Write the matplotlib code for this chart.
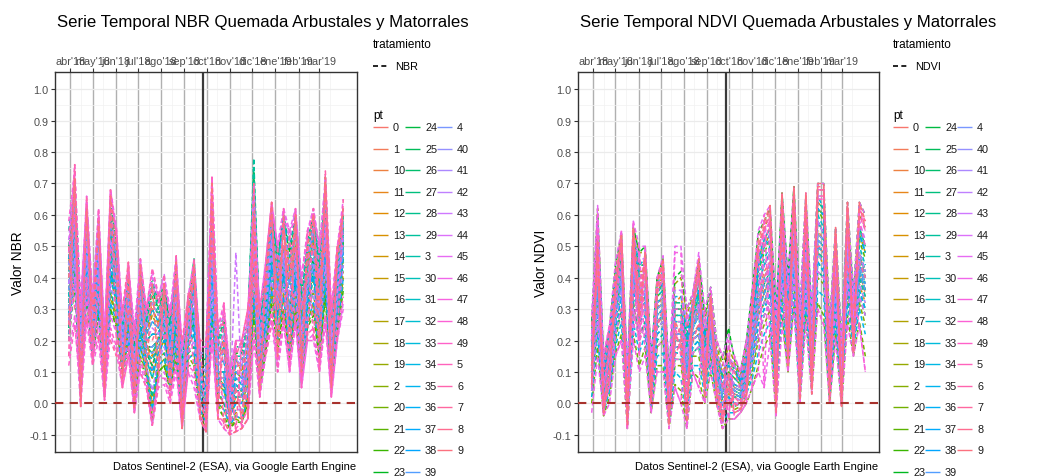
import numpy as np
import pandas as pd
import matplotlib
matplotlib.use("Agg")
import matplotlib.pyplot as plt
import matplotlib.dates as mdates

plt.rcParams['font.family'] = ['Liberation Sans', 'DejaVu Sans']
plt.rcParams['axes.unicode_minus'] = False

# ---------------- datos ----------------
fechas = pd.date_range("2018-03-30", periods=47, freq="8D")
fecha_fuego = pd.Timestamp("2018-09-26")
meses = pd.date_range("2018-04-01", "2019-03-01", freq="MS")
meses_lbl = ["abr'18", "may'18", "jun'18", "jul'18", "ago'18", "sep'18",
             "oct'18", "nov'18", "dic'18", "ene'19", "feb'19", "mar'19"]
y_ticks = [-0.1, 0.0, 0.1, 0.2, 0.3, 0.4, 0.5, 0.6, 0.7, 0.8, 0.9, 1.0]
pts = [str(i) for i in range(50)]

# valores NBR (x100) por pt, una fecha por columna
nbr_pt = [
    "30 55 10 50 20 40 8 48 40 15 28 5 30 20 10 22 25 12 30 2 20 28 5 0 40 8 5 -2 0 3 10 45 12 28 50 30 45 28 40 18 35 45 25 55 12 32 50",
    "45 62 20 58 25 50 15 55 45 20 35 10 38 22 30 25 30 18 35 8 25 35 10 5 55 15 20 2 10 8 15 60 20 35 55 38 50 40 50 25 42 52 35 60 18 40 55",
    "20 40 5 35 15 30 5 30 25 10 20 0 15 10 -5 10 12 5 15 -5 15 12 -3 -8 30 0 -5 -8 -5 -6 0 30 5 18 35 18 30 15 30 8 25 30 15 35 5 25 38",
    "55 70 30 62 30 58 20 65 52 25 40 20 42 28 38 30 35 25 42 15 30 42 15 15 65 20 25 5 15 15 25 70 25 40 60 45 58 50 58 35 50 58 45 68 25 45 60",
    "36 58 14 50 22 44 10 50 40 16 30 8 32 18 18 20 26 14 32 4 22 32 6 2 50 10 10 -2 6 4 12 54 16 30 50 32 46 30 46 20 38 46 30 54 16 34 52",
    "55 60 -1 40 15 62 1 48 56 5 45 -3 46 30 43 35 20 30 25 -8 35 10 20 -9 72 -5 32 -10 20 -8 30 50 2 45 64 10 62 10 62 5 55 20 50 60 2 50 55",
    "15 76 5 66 12 40 2 68 20 5 15 25 10 5 -7 5 41 0 47 -5 10 46 -5 -9 60 25 -8 10 -9 20 -5 45 30 15 25 50 25 55 25 40 20 62 10 74 30 20 65",
    "50 30 30 25 35 20 25 20 15 30 45 10 30 30 30 35 30 28 30 20 34 40 20 20 50 25 25 5 15 20 30 40 30 40 40 40 50 40 50 30 40 50 40 50 25 50 50",
    "25 70 10 60 30 55 10 60 40 10 30 5 40 20 20 25 35 10 40 -5 30 40 0 -5 65 0 20 -5 5 -5 10 70 10 35 60 30 55 40 60 15 50 60 30 70 10 45 60",
    "40 72 -1 62 20 58 5 66 50 8 40 -2 44 10 38 10 38 5 45 -8 30 44 -5 -9 70 -5 -5 -10 -9 -8 -5 60 4 40 64 15 60 20 60 10 50 60 20 72 5 48 62",
    "28 50 10 45 20 38 8 42 35 15 26 6 25 16 12 18 22 10 26 2 20 25 4 0 42 8 6 -4 2 2 8 48 12 25 45 28 42 25 40 15 32 42 25 50 12 30 48",
    "42 68 22 60 28 52 15 60 48 22 36 14 38 24 32 28 34 20 40 10 26 40 12 10 62 16 20 4 12 12 20 68 22 36 58 42 55 42 55 30 46 56 40 66 22 42 58",
    "32 52 12 48 22 42 10 46 38 15 28 8 28 18 15 20 24 12 28 4 20 28 6 2 45 10 8 -2 4 4 10 50 14 28 48 30 44 28 42 18 35 44 28 52 14 32 50",
    "22 45 6 38 16 32 4 35 28 10 22 2 20 12 0 14 16 8 20 -3 16 18 0 -5 32 3 0 -6 -3 -3 3 38 8 20 38 22 35 18 35 10 28 36 18 42 8 26 42",
    "48 66 24 58 26 56 16 58 50 20 36 12 40 24 30 26 32 20 38 10 26 38 12 12 58 16 20 4 14 10 20 62 22 36 56 40 54 44 54 28 44 54 36 62 20 40 56",
    "36 56 14 50 24 44 10 50 40 16 30 8 32 18 18 20 26 14 30 4 22 30 6 2 48 10 10 -2 6 4 12 52 16 30 50 32 46 30 46 20 36 46 30 54 16 34 52",
    "26 48 8 42 18 36 6 40 32 12 24 4 24 14 8 16 20 10 24 0 18 22 2 -2 38 6 4 -4 0 0 6 44 10 24 42 26 40 24 38 14 30 40 22 46 10 28 46",
    "44 64 20 56 26 50 14 56 46 20 34 12 36 22 28 24 30 18 36 8 24 36 10 8 56 14 18 2 10 8 18 60 20 34 54 38 50 38 50 26 42 52 34 60 20 38 56",
    "30 50 10 46 20 40 8 44 36 14 26 6 28 16 14 18 22 12 28 2 20 26 4 0 44 8 8 -2 2 2 10 48 14 26 46 30 44 26 42 16 34 44 26 50 14 32 50",
    "24 42 4 36 16 30 4 34 26 10 20 0 18 10 -2 12 14 6 18 -4 14 16 -2 -6 30 0 -2 -7 -4 -5 2 34 6 18 36 20 34 16 32 8 26 32 16 38 6 24 40",
    "34 54 12 48 22 44 10 48 40 16 28 8 30 18 16 20 24 12 30 4 22 30 6 2 46 10 10 -2 4 4 12 50 14 28 48 30 44 28 44 18 36 46 28 52 14 34 52",
    "40 60 18 54 24 48 12 54 44 18 32 10 34 20 22 22 28 16 34 6 24 34 8 4 52 12 14 0 8 6 14 56 18 32 52 34 48 34 48 22 40 50 32 56 18 36 54",
    "20 38 2 34 14 28 2 30 24 8 18 -2 14 8 -6 10 12 4 14 -6 12 12 -4 -8 26 -2 -4 -8 -6 -6 0 28 4 16 32 16 30 14 30 6 24 28 14 34 4 22 36",
    "46 70 26 62 30 58 18 64 52 24 40 18 42 26 36 30 36 24 42 14 30 44 14 14 64 20 26 6 16 16 24 72 24 40 60 46 58 48 58 34 50 58 44 68 24 44 60",
    "36 56 14 50 22 46 10 50 40 16 30 8 30 18 18 20 26 14 30 4 22 30 6 2 48 10 10 -2 6 4 12 52 16 30 50 32 46 30 46 20 38 46 30 54 16 34 52",
    "28 50 10 44 20 38 8 42 34 14 26 6 26 16 12 18 22 10 26 2 20 26 4 0 42 8 6 -4 2 2 8 48 12 26 46 28 42 26 40 16 32 42 26 50 12 30 48",
    "50 68 28 62 30 56 20 62 52 26 42 20 44 28 40 32 38 26 44 16 32 46 16 16 66 22 28 8 18 18 26 74 26 42 62 48 60 50 60 36 52 60 46 70 26 46 62",
    "38 58 16 52 24 46 12 52 42 18 32 10 34 20 22 22 28 16 34 6 24 34 8 4 50 12 14 0 8 6 14 56 18 32 52 34 48 34 48 22 40 48 32 56 18 36 54",
    "24 44 6 40 16 34 4 36 28 10 22 2 20 12 2 14 16 8 20 -2 16 18 0 -4 34 4 0 -6 -2 -2 4 40 8 22 40 24 38 20 36 10 28 36 20 44 8 26 44",
    "44 66 22 60 28 54 16 60 50 22 38 16 40 26 34 28 34 22 40 12 28 42 12 12 60 18 24 4 14 14 22 78 24 38 60 44 56 46 56 32 48 56 42 66 22 42 58",
    "32 54 12 46 20 42 10 46 38 16 28 8 30 18 16 20 24 12 30 4 22 28 6 2 46 10 10 -2 4 4 12 54 14 28 48 30 44 28 44 18 36 44 28 72 14 34 50",
    "26 46 8 42 18 36 6 40 32 12 24 4 22 14 8 16 20 10 24 0 18 22 2 -2 38 6 4 -4 0 0 6 42 10 24 42 26 40 24 38 14 30 40 22 46 10 28 46",
    "42 62 20 56 26 50 14 56 46 20 34 12 36 22 26 24 30 18 36 8 26 36 10 8 56 14 18 2 10 8 16 60 20 34 54 36 50 38 50 26 42 52 34 60 20 38 56",
    "34 56 12 48 22 44 10 48 40 16 30 8 30 18 18 20 26 14 30 4 22 30 6 2 48 10 10 -2 6 4 12 52 16 30 50 32 46 30 46 20 36 46 30 54 16 34 52",
    "30 50 10 46 20 40 8 44 36 14 26 6 28 16 14 18 22 12 28 2 20 26 4 0 44 8 8 -2 2 2 10 48 14 26 46 30 44 26 42 16 34 44 26 50 14 32 50",
    "46 64 22 58 28 52 16 58 48 22 36 14 38 24 30 26 32 20 38 10 26 40 12 10 58 16 20 4 12 12 20 64 22 36 56 40 60 42 54 30 46 54 38 64 22 40 58",
    "22 40 4 36 16 30 4 32 26 10 20 0 18 10 -2 12 14 6 18 -4 14 16 -2 -6 30 0 -2 -7 -4 -5 2 34 6 18 36 20 34 16 32 8 26 32 16 38 6 24 40",
    "38 58 16 52 24 46 12 52 42 18 32 10 32 20 22 22 28 16 32 6 24 32 8 4 50 12 14 0 8 6 14 56 18 32 52 34 48 34 48 22 40 50 32 56 18 36 54",
    "28 48 8 44 18 38 6 42 34 12 24 4 24 14 10 16 20 10 24 0 18 24 2 -2 40 6 6 -4 0 0 8 46 12 24 44 28 42 24 40 14 32 42 24 48 12 30 48",
    "40 62 18 56 26 50 14 56 46 20 34 12 36 22 26 24 30 18 36 8 26 36 10 6 54 14 16 2 10 8 16 58 20 34 54 36 50 38 50 24 42 50 34 58 18 38 56",
    "30 52 10 46 20 42 8 46 38 14 28 6 28 16 16 18 24 12 30 2 20 28 4 0 46 8 8 -2 4 2 10 50 14 28 48 30 44 28 44 16 36 44 28 52 14 32 50",
    "44 66 22 58 28 54 16 60 48 22 36 14 40 24 32 28 34 22 40 10 28 42 12 10 60 16 22 4 14 12 20 66 22 38 58 42 56 44 56 30 46 56 40 64 22 42 58",
    "26 46 6 40 18 34 4 38 30 10 22 2 20 12 4 14 18 8 20 -2 16 20 0 -4 36 4 2 -6 -2 -2 4 40 8 22 40 24 38 20 36 10 28 36 20 44 8 26 44",
    "38 60 16 52 24 48 12 52 42 18 32 10 34 20 24 22 28 16 34 6 24 34 8 4 52 12 14 0 48 6 14 56 18 32 52 34 48 34 48 22 40 50 32 56 18 36 54",
    "52 72 28 64 32 60 20 66 54 26 42 20 46 28 40 34 41 28 47 16 32 44 16 16 68 22 28 8 18 18 26 70 28 44 62 50 62 52 62 38 54 62 48 72 28 48 62",
    "20 40 0 34 14 26 2 28 22 6 16 -3 12 6 -7 8 10 2 12 -8 10 8 -5 -9 24 -5 -8 -10 -9 -8 -5 22 2 15 28 12 26 10 26 5 20 22 10 28 2 20 32",
    "48 76 30 66 34 62 22 68 56 28 44 24 46 30 42 34 40 30 46 18 34 46 18 18 72 24 30 10 20 20 28 58 30 45 64 50 62 55 62 40 55 62 50 70 30 50 65",
    "15 28 -1 26 12 20 1 22 16 5 15 -3 10 5 -7 5 6 0 10 -8 10 5 -5 -9 20 -5 -8 -10 -9 -8 -5 20 2 15 26 10 25 10 25 5 20 20 10 25 2 20 30",
    "58 74 32 64 30 60 22 68 54 28 44 22 44 28 38 32 38 28 44 18 32 44 18 18 72 24 32 10 20 20 30 58 30 44 64 50 58 55 58 40 55 60 50 60 30 50 62",
    "12 25 5 28 14 22 5 24 18 8 18 0 14 8 -4 8 8 2 14 -6 12 10 -3 -9 22 -4 -6 -9 -8 -6 -2 24 4 18 30 14 28 12 28 8 22 24 12 28 4 22 34",
]

# valores NDVI (x100) por pt
ndvi_pt = [
    "10 35 2 12 28 38 0 40 30 32 5 25 28 0 20 20 10 22 25 12 22 8 2 5 3 2 8 18 30 35 40 12 45 22 48 12 45 15 50 48 10 38 8 45 25 42 35",
    "15 45 5 15 32 42 3 45 35 38 8 30 35 2 25 25 15 25 30 15 26 10 4 8 5 4 10 22 35 42 45 15 52 28 55 15 52 18 55 52 12 42 10 50 28 48 40",
    "5 25 -2 5 20 30 -5 32 22 25 0 18 20 -5 12 12 0 15 15 5 15 3 -4 0 -2 -1 4 10 20 25 30 5 35 15 38 5 35 8 40 38 4 28 2 35 18 32 25",
    "20 55 10 20 38 48 6 50 40 42 10 35 38 5 30 30 20 30 35 20 30 14 8 12 10 7 14 28 42 50 52 20 60 32 62 20 58 22 62 60 18 48 14 56 30 54 48",
    "12 40 4 14 30 40 2 42 32 35 6 28 30 0 22 22 12 24 28 14 24 9 3 6 4 3 9 20 32 38 42 14 48 25 50 14 48 16 52 50 11 40 9 48 26 44 38",
    "15 50 -2 10 35 50 -6 52 30 45 2 35 42 -6 30 30 0 30 40 10 32 5 -5 5 0 -1 5 30 48 50 58 5 64 18 66 5 62 8 66 66 5 52 3 60 20 60 55",
    "8 45 5 18 40 52 -5 55 35 48 5 38 44 -4 20 25 5 28 42 8 34 8 -3 8 2 0 8 32 50 55 60 2 66 14 68 6 64 6 68 68 8 54 2 62 18 62 58",
    "25 40 10 22 28 30 5 35 40 30 10 25 30 5 15 20 20 20 25 20 25 15 5 15 10 5 15 20 30 40 45 20 50 30 50 20 45 20 50 50 20 40 15 45 30 45 40",
    "12 48 0 12 38 52 -4 54 25 46 3 36 44 -4 22 18 -2 30 44 5 32 4 -4 10 0 -2 4 30 50 56 62 0 66 16 68 4 66 5 69 69 4 54 1 63 17 63 56",
    "6 52 -3 8 36 54 -7 56 28 48 0 38 46 -7 26 22 -6 32 46 2 34 2 -6 6 -3 -2 2 32 52 58 63 -3 67 12 69 1 67 3 70 70 1 56 -1 64 16 64 58",
    "10 38 3 12 28 38 0 40 30 32 5 26 28 0 20 20 10 22 24 12 22 8 2 4 3 2 8 18 30 36 40 12 46 22 48 12 44 14 50 48 10 38 8 46 25 42 36",
    "22 58 12 22 40 50 8 54 44 44 12 38 40 6 32 34 24 32 40 22 32 16 10 14 12 8 16 30 46 52 56 22 62 34 64 22 60 24 64 62 20 50 16 58 32 56 50",
    "6 32 0 10 26 36 -2 38 28 30 4 24 26 -2 18 18 8 20 22 10 20 6 0 3 2 1 7 16 28 32 38 10 44 20 46 10 42 12 48 44 8 36 6 42 22 38 32",
    "16 48 6 16 34 44 4 46 36 38 8 32 34 2 26 26 16 27 32 16 27 11 5 9 6 5 11 24 38 44 48 16 54 28 56 16 52 19 58 54 14 44 11 52 29 48 42",
    "4 26 -2 6 22 30 -4 30 20 25 1 18 20 -4 14 14 3 16 18 6 17 4 -3 1 0 0 5 13 22 28 32 6 38 16 40 6 36 10 42 40 6 30 4 38 20 34 28",
    "20 54 10 20 38 48 6 52 42 42 10 36 38 5 30 30 20 30 36 20 30 14 8 12 10 7 14 28 44 50 54 20 60 32 62 20 58 22 62 60 18 48 14 56 31 54 48",
    "12 40 4 14 30 40 2 42 32 34 6 28 30 0 22 22 12 24 28 13 24 9 3 6 4 3 9 20 32 38 42 14 48 24 50 14 46 16 52 50 11 40 9 48 26 44 38",
    "8 34 1 10 26 36 -1 38 28 30 3 24 26 -1 18 18 8 20 22 10 20 6 1 4 2 2 7 17 28 32 38 10 44 20 46 10 42 12 48 46 8 36 6 44 24 40 34",
    "24 62 14 24 42 54 10 56 48 48 14 40 44 8 38 40 28 34 44 26 35 18 12 18 13 9 18 34 50 56 60 26 66 38 68 26 64 27 68 68 24 54 18 62 34 60 56",
    "14 44 5 15 32 42 3 44 34 36 7 30 32 2 24 24 14 25 30 15 25 10 4 8 5 4 10 22 34 40 44 15 50 26 52 15 48 17 54 52 12 42 10 50 27 46 40",
    "0 18 -4 2 16 22 -8 22 12 18 -3 12 12 -8 6 4 -8 10 8 0 10 0 -8 -5 -5 -3 0 5 12 18 22 -3 28 10 32 0 28 3 32 28 0 22 -1 28 15 26 15",
    "18 52 8 18 36 46 5 50 40 40 9 34 36 4 28 28 18 28 34 18 28 12 6 10 8 6 12 26 42 48 52 18 58 30 60 18 56 20 62 58 16 46 12 54 30 52 46",
    "10 36 2 12 28 38 0 40 30 32 5 26 28 0 20 20 10 22 24 12 22 8 2 4 3 2 8 18 30 35 40 12 46 22 48 12 44 14 50 48 10 38 8 46 25 42 36",
    "26 60 14 24 44 54 10 56 48 50 14 40 46 9 40 42 30 35 46 28 37 20 14 24 14 10 20 36 54 58 62 28 67 40 69 28 66 28 70 70 25 56 20 64 35 64 60",
    "6 30 0 8 24 34 -2 36 26 28 3 22 24 -2 16 16 6 18 20 8 18 5 -1 2 0 0 6 14 25 30 35 8 40 18 42 8 40 10 45 42 6 32 4 40 20 36 30",
    "16 46 6 16 34 44 4 46 36 38 8 32 34 2 26 26 16 26 32 16 26 11 5 9 6 5 11 24 38 44 48 16 54 28 56 16 52 18 58 54 14 44 11 52 28 48 42",
    "12 42 4 14 30 40 2 42 32 34 6 28 30 0 22 22 12 24 28 13 24 9 3 6 4 3 9 20 32 38 42 14 48 24 50 14 46 16 52 50 11 40 9 48 26 44 38",
    "20 56 10 20 38 50 7 52 44 44 11 36 40 5 32 32 22 31 38 22 31 15 9 13 11 7 15 30 46 52 56 22 62 34 64 22 60 24 64 62 20 50 15 58 32 56 50",
    "4 28 -2 6 22 30 -4 32 22 26 1 20 22 -4 14 14 3 16 18 6 17 4 -3 0 -1 0 5 12 22 28 32 5 38 16 40 5 36 8 42 40 5 30 3 38 19 34 28",
    "14 44 5 14 32 42 3 44 34 36 7 30 32 2 24 24 14 25 30 14 25 10 4 8 5 4 10 22 34 40 44 15 50 26 52 15 48 17 54 52 12 42 10 50 27 46 40",
    "8 34 1 10 26 36 -1 38 28 30 3 24 26 -1 18 18 8 20 22 10 20 6 1 4 2 2 7 17 28 32 38 10 44 20 46 10 42 12 48 46 8 36 6 44 24 40 34",
    "18 50 8 18 36 46 5 48 40 40 9 34 36 4 28 28 18 28 34 18 28 12 6 10 8 6 12 26 40 46 50 18 56 30 58 18 54 20 60 56 16 46 12 54 30 50 44",
    "10 38 3 12 28 38 0 40 30 32 5 26 28 0 20 20 10 22 24 12 22 8 2 4 3 2 8 18 30 35 40 12 46 22 48 12 44 14 50 48 10 38 8 46 25 42 36",
    "22 56 12 22 40 50 8 54 44 46 12 38 42 6 34 34 24 32 40 22 32 16 10 14 12 8 16 30 46 52 56 22 62 34 64 22 60 24 66 62 20 50 16 60 32 56 50",
    "2 22 -3 4 18 26 -6 26 16 22 -1 15 16 -6 10 8 -4 12 12 3 13 2 -6 -3 -3 -2 3 8 16 22 26 1 32 12 35 2 32 5 36 34 2 26 1 32 17 30 22",
    "16 48 6 16 34 44 4 46 36 38 8 32 34 2 26 26 16 27 32 16 27 11 5 9 6 5 11 24 38 44 48 16 54 28 56 16 52 19 58 54 14 44 11 52 29 48 42",
    "12 40 4 14 30 40 2 42 32 34 6 28 30 0 22 22 12 24 28 13 24 9 3 6 4 3 9 20 32 38 42 14 48 24 50 14 46 16 52 50 11 40 9 48 26 44 38",
    "6 30 0 8 24 34 -2 36 26 28 3 22 24 -2 16 16 6 18 20 8 18 5 -1 2 0 0 6 14 25 30 35 8 40 18 42 8 40 10 45 42 6 32 4 40 20 36 30",
    "20 52 10 20 38 48 6 50 42 42 10 36 38 5 30 30 20 30 36 20 30 14 8 12 10 7 14 28 44 50 54 20 60 32 62 20 58 22 62 60 18 48 14 56 31 54 48",
    "10 36 2 12 28 38 0 40 30 32 5 26 28 0 20 20 10 22 24 12 22 8 2 4 3 2 8 18 30 35 40 12 46 22 48 12 44 14 50 48 10 38 8 46 25 42 36",
    "14 44 5 15 32 42 3 44 34 36 7 30 32 2 24 24 14 25 30 15 25 10 4 8 5 4 10 22 34 40 44 15 50 26 52 15 48 17 54 52 12 42 10 50 27 46 40",
    "8 32 0 10 26 36 -2 38 28 30 4 24 26 -1 18 18 8 20 22 10 20 6 0 3 2 1 7 16 28 32 38 10 44 20 46 10 42 12 48 44 8 36 6 42 22 38 32",
    "22 58 12 22 40 52 8 54 46 46 12 38 42 7 36 36 26 33 42 24 34 16 10 15 12 8 16 32 48 54 58 24 64 36 66 24 62 25 66 66 22 52 16 60 32 58 52",
    "16 46 6 16 34 44 4 46 36 38 8 32 34 2 26 26 16 26 32 16 26 11 5 9 6 5 11 24 38 44 48 16 54 28 56 16 52 18 58 54 14 44 11 52 28 48 42",
    "4 26 -2 6 22 30 -4 30 20 25 1 18 20 -4 14 14 3 16 18 6 17 4 -3 1 0 0 5 13 22 28 32 6 38 16 40 6 36 10 42 40 6 30 4 38 20 34 28",
    "28 63 15 25 45 55 12 58 50 50 15 40 47 10 50 50 30 35 48 30 37 20 15 22 15 10 20 36 55 60 63 30 67 40 69 30 67 30 70 70 25 56 20 64 35 64 60",
    "-3 15 -4 0 15 20 -8 20 10 15 -3 10 10 -8 5 0 -8 10 5 0 10 0 -8 -5 -5 -3 0 5 10 5 20 -4 25 10 30 0 25 3 30 25 0 20 -1 25 15 25 10",
    "20 60 0 5 40 55 -8 58 20 50 -3 40 45 -8 48 48 -8 35 46 0 36 0 -8 20 -5 -3 0 34 50 5 60 -4 65 10 67 0 65 3 68 68 0 54 -1 62 15 62 55",
    "30 30 15 25 15 20 12 20 50 15 15 10 10 10 5 0 30 10 5 30 10 20 15 -5 15 10 20 5 10 60 20 30 25 40 30 30 25 30 30 25 25 20 20 25 35 25 10",
    "5 55 -4 20 30 50 -8 50 15 45 0 35 40 -5 25 15 -5 30 30 5 30 3 -5 0 -3 -2 2 28 48 55 58 0 62 15 65 3 60 5 65 65 3 50 0 58 20 58 50",
]

# ---------------- estilo ----------------
W, H = 1038, 477


def hcl_color(h, c=100.0, l=65.0):
    # hcl() de R -> sRGB (paleta por defecto de ggplot)
    hr = np.deg2rad(h)
    u, v = c * np.cos(hr), c * np.sin(hr)
    xn, yn, zn = 95.047, 100.0, 108.883
    yy = yn * ((l + 16) / 116) ** 3
    t = xn + 15 * yn + 3 * zn
    up = u / (13 * l) + 4 * xn / t
    vp = v / (13 * l) + 9 * yn / t
    xx = 9 * yy * up / (4 * vp)
    zz = -xx / 3 - 5 * yy + 3 * yy / vp
    xx, yy, zz = xx / 100, yy / 100, zz / 100
    rgb = [3.240479 * xx - 1.537150 * yy - 0.498535 * zz,
           -0.969256 * xx + 1.875992 * yy + 0.041556 * zz,
           0.055648 * xx - 0.204043 * yy + 1.057311 * zz]
    out = []
    for ch in rgb:
        ch = min(max(ch, 0.0), 1.0)
        out.append(12.92 * ch if ch <= 0.0031308 else 1.055 * ch ** (1 / 2.4) - 0.055)
    return tuple(out)


niveles = sorted(pts)
colores = {lvl: hcl_color(15 + 360 * j / len(niveles)) for j, lvl in enumerate(niveles)}

fig = plt.figure(figsize=(W / 100, H / 100), dpi=100)
ov = fig.add_axes([0, 0, 1, 1])
ov.set_xlim(0, W)
ov.set_ylim(H, 0)
ov.axis('off')


def px_axes(x0, y0, x1, y1):
    return fig.add_axes([x0 / W, 1 - y1 / H, (x1 - x0) / W, (y1 - y0) / H])


def panel(ax, series):
    xd = mdates.date2num(fechas.to_pydatetime())
    span = xd[-1] - xd[0]
    ax.set_xlim(xd[0] - 0.05 * span, xd[-1] + 0.05 * span)
    ax.set_ylim(-0.155, 1.055)

    # rejilla
    ax.set_yticks(y_ticks)
    ax.set_yticklabels(["%.1f" % v for v in y_ticks])
    ax.set_yticks([v + 0.05 for v in y_ticks[:-1]], minor=True)
    ax.set_xticks(mdates.date2num(meses.to_pydatetime()))
    ax.set_xticklabels(meses_lbl)
    ax.set_xticks(mdates.date2num((meses + pd.Timedelta(days=14)).to_pydatetime()), minor=True)
    ax.grid(True, which='major', axis='y', color='#ebebeb', lw=0.9, zorder=0)
    ax.grid(True, which='minor', color='#f2f2f2', lw=0.5, zorder=0)
    for m in meses:
        ax.axvline(mdates.date2num(m), color='#b0b0b0', lw=1.0, zorder=1)
    ax.axvline(mdates.date2num(fecha_fuego), color='#3a3a3a', lw=1.6, zorder=2)

    for lvl in niveles:
        vals = np.array(series[int(lvl)].split(), dtype=float) / 100
        n = min(len(vals), len(xd))
        ax.plot(xd[:n], vals[:n], color=colores[lvl], lw=1.1,
                ls=(0, (3, 1.8)), zorder=3)

    ax.axhline(0, color='#a8322d', lw=1.5, ls=(0, (4, 3)), zorder=4)

    ax.xaxis.tick_top()
    ax.tick_params(axis='x', which='major', length=3, width=0.8, color='#333333',
                   labelsize=7.8, labelcolor='#4d4d4d', pad=1.5)
    ax.tick_params(axis='x', which='minor', length=0)
    ax.tick_params(axis='y', which='major', length=3, width=0.8, color='#333333',
                   labelsize=7.8, labelcolor='#4d4d4d', pad=1.5)
    ax.tick_params(axis='y', which='minor', length=0)
    for s in ax.spines.values():
        s.set_color('#333333')
        s.set_linewidth(1.0)
    ax.set_facecolor('white')


def leyenda(x0, nombre):
    ov.text(x0, 45, "tratamiento", fontsize=8.5, va='center', ha='left')
    ov.plot([x0, x0 + 15], [67, 67], color='black', lw=1.2, ls=(0, (3, 2)))
    ov.text(x0 + 22, 67, nombre, fontsize=7.8, va='center', ha='left')
    ov.text(x0, 116, "pt", fontsize=8.5, va='center', ha='left')
    filas = 17
    for j, lvl in enumerate(niveles):
        col, fila = divmod(j, filas)
        cx = x0 + 32 * col
        cy = 128 + 21.56 * fila
        ov.plot([cx, cx + 15], [cy, cy], color=colores[lvl], lw=1.0,
                solid_capstyle='butt')
        ov.text(cx + 20, cy, lvl, fontsize=7.8, va='center', ha='left',
                color='#1a1a1a')


paneles = [
    (nbr_pt, "NBR", 55, 357, 18, 373),
    (ndvi_pt, "NDVI", 578, 879, 541, 893),
]
for series, indice, x0, x1, ylab_x, ley_x in paneles:
    ax = px_axes(x0, 73, x1, 453)
    panel(ax, series)
    ov.text(x0 + 2, 22, "Serie Temporal %s Quemada Arbustales y Matorrales" % indice,
            fontsize=12.1, va='center', ha='left')
    ov.text(ylab_x, 263, "Valor %s" % indice, fontsize=9.8, rotation=90,
            va='center', ha='center')
    ov.text(x1 - 1, 467, "Datos Sentinel-2 (ESA), via Google Earth Engine",
            fontsize=8.0, va='center', ha='right')
    leyenda(ley_x, indice)

ov.set_zorder(10)
fig.savefig("out.png", dpi=100)
